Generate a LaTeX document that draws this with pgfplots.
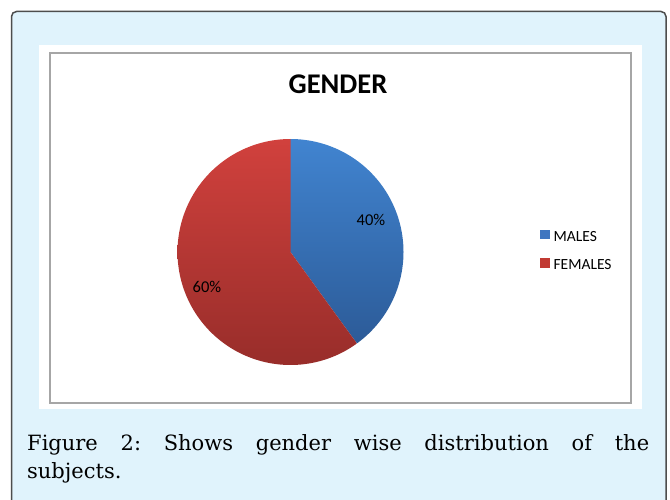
\documentclass[border=0pt]{standalone}
\usepackage{fontspec}
\usepackage{pgfplots}
\pgfplotsset{compat=1.18}
\newfontfamily\carlito{Carlito}
\newfontfamily\dvserif{DejaVu Serif}
\definecolor{outerbg}{HTML}{E0F3FC}
\definecolor{outerln}{HTML}{4D4D4D}
\definecolor{frameln}{HTML}{A6A6A6}
\definecolor{bluetop}{HTML}{4184D0}
\definecolor{bluebot}{HTML}{2C5B98}
\definecolor{redtop}{HTML}{D1413D}
\definecolor{redbot}{HTML}{982D2A}
\definecolor{legblue}{HTML}{3F76C0}
\definecolor{legred}{HTML}{C13A33}
\frenchspacing
% data (percent)
\def\valMales{40}
\def\valFemales{60}
\def\cx{290.5}
\def\cy{252}
\def\rr{113}
\begin{document}
\begin{tikzpicture}
\pgfmathsetmacro\aStart{90}
\pgfmathsetmacro\aMid{90-3.6*\valMales}
\pgfmathsetmacro\aEnd{\aMid-3.6*\valFemales}
\begin{axis}[
  scale only axis, width=670pt, height=500pt,
  xmin=0, xmax=670, ymin=0, ymax=500, y dir=reverse,
  hide axis, clip=false,
  legend style={at={(axis cs:537,251)}, anchor=west, draw=none, fill=none,
    font=\carlito\fontsize{15.5}{17}\selectfont, row sep=14pt,
    nodes={inner sep=1pt}},
  legend cell align=left,
]
% backgrounds
\path[fill=white] (axis cs:0,0) rectangle (axis cs:670,500);
\draw[overlay, fill=outerbg, draw=outerln, line width=1.5pt, rounded corners=5pt]
  (axis cs:11.5,11.5) rectangle (axis cs:666,520);
\fill[white] (axis cs:39,45) rectangle (axis cs:642,409);
\draw[frameln, line width=1.5pt] (axis cs:50,53) rectangle (axis cs:631,403);
% pie slices
\addplot[forget plot, draw=none, top color=bluetop, bottom color=bluebot,
  domain=\aStart:\aMid, samples=145, variable=\t]
  ({\cx+\rr*cos(\t)}, {\cy-\rr*sin(\t)}) -- (axis cs:\cx,\cy) -- cycle;
\addplot[forget plot, draw=none, top color=redtop, bottom color=redbot,
  domain=\aMid:\aEnd, samples=217, variable=\t]
  ({\cx+\rr*cos(\t)}, {\cy-\rr*sin(\t)}) -- (axis cs:\cx,\cy) -- cycle;
% legend
\addlegendimage{legend image code/.code={\fill[legblue] (0pt,-1pt) rectangle (9pt,7.5pt);}}
\addlegendentry{\hspace{3pt}MALES}
\addlegendimage{legend image code/.code={\fill[legred] (0pt,-1pt) rectangle (9pt,7.5pt);}}
\addlegendentry{\hspace{3pt}FEMALES}
% labels
\node[font=\carlito\fontsize{16.5}{18}\selectfont] at (axis cs:371,220) {40\%};
\node[font=\carlito\fontsize{16.5}{18}\selectfont] at (axis cs:207,287) {60\%};
\node[font=\carlito\bfseries\fontsize{28.5}{32}\selectfont] at (axis cs:338,84) {GENDER};
% caption
\node[anchor=base west, inner sep=0pt, font=\dvserif\fontsize{21}{24}\selectfont]
  at (axis cs:27,450) {\makebox[622pt][s]{Figure 2: Shows gender wise distribution of the}};
\node[anchor=base west, inner sep=0pt, font=\dvserif\fontsize{21}{24}\selectfont]
  at (axis cs:27,478) {subjects.};
\end{axis}
\end{tikzpicture}
\end{document}
